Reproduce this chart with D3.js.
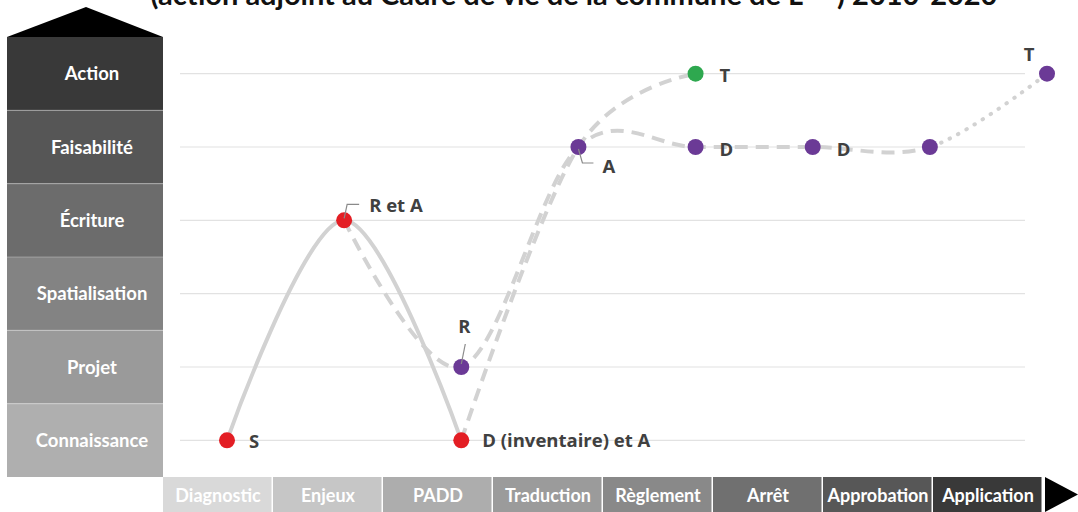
<!DOCTYPE html>
<html><head><meta charset="utf-8">
<script src="https://cdn.jsdelivr.net/npm/d3@7"></script>
<style>
html,body{margin:0;padding:0;background:#fff;overflow:hidden}
svg{display:block}
</style></head>
<body>
<svg id="chart" width="1078" height="512"></svg>
<script>
// ---- data ----
const title = "(action adjoint au Cadre de vie de la commune de L***) 2010-2020";
const levels = ["Connaissance","Projet","Spatialisation","Écriture","Faisabilité","Action"];
const phases = ["Diagnostic","Enjeux","PADD","Traduction","Règlement","Arrêt","Approbation","Application"];
// series: step index + level
const solidSteps = [0,1,2];
const solidLevels = ["Connaissance","Écriture","Connaissance"];
const pathBSteps = [1,2,3,4,5,6,7];
const pathBLevels = ["Écriture","Projet","Faisabilité","Faisabilité","Faisabilité","Faisabilité","Action"];
const pathCSteps = [2,3,4];
const pathCLevels = ["Connaissance","Faisabilité","Action"];
// markers
const dotSteps  = [0,1,2,2,3,4,4,5,6,7];
const dotLevels = ["Connaissance","Écriture","Connaissance","Projet","Faisabilité","Action","Faisabilité","Faisabilité","Faisabilité","Action"];
const dotGroups = ["red","red","red","purple","purple","green","purple","purple","purple","purple"];
const dotLabels = ["S","R et A","D (inventaire) et A","R","A","T","D","D","","T"];

// ---- layout / style ----
const svg = d3.select("#chart");
const levelColors = ["#afafaf","#9a9a9a","#838383","#6c6c6c","#565656","#393939"];
const phaseColors = ["#d9d9d9","#c6c6c6","#adadad","#9b9b9b","#898989","#707070","#575757","#393939"];
const groupColor = {red:"#e31e24", purple:"#6b3a96", green:"#2ea84f"};
const lineColor = "#d2d2d2";
const gothic = "Lato, 'DejaVu Sans', sans-serif";

const yBand = d3.scaleBand().domain(levels).range([477,37]).padding(0);
const yc = l => yBand(l) + yBand.bandwidth()/2;
const x = d3.scaleLinear().domain([0,7]).range([227,1047]);
const xPhase = d3.scaleBand().domain(phases).range([163,1043]).padding(0);

// title (cut off at top, as in the source)
svg.append("text").attr("x",574).attr("y",5).attr("text-anchor","middle")
  .attr("font-family",gothic).attr("font-weight",700)
  .attr("font-size",29).attr("fill","#111").text(title);

// roof
svg.append("path").attr("d",`M7,${yBand.range()[1]} L86,7 L163,${yBand.range()[1]} Z`).attr("fill","#000");

// level blocks
const lv = svg.append("g");
lv.selectAll("rect").data(levels).join("rect")
  .attr("x",7).attr("width",156).attr("y",d=>yBand(d)).attr("height",yBand.bandwidth())
  .attr("fill",(d,i)=>levelColors[i]);
lv.selectAll("line").data(levels.slice(0,-1)).join("line")
  .attr("x1",7).attr("x2",163).attr("y1",d=>yBand(d)).attr("y2",d=>yBand(d))
  .attr("stroke","rgba(255,255,255,0.3)").attr("stroke-width",1.2);
lv.selectAll("text").data(levels).join("text")
  .attr("x",92).attr("y",d=>yc(d)+6.5).attr("text-anchor","middle")
  .attr("font-family",gothic).attr("font-weight",700)
  .attr("font-size",18.5).attr("fill","#fff").text(d=>d);

// gridlines
svg.append("g").selectAll("line").data(levels).join("line")
  .attr("x1",180).attr("x2",1025).attr("y1",d=>yc(d)).attr("y2",d=>yc(d))
  .attr("stroke","#e2e2e2").attr("stroke-width",1.2);

// phase band
const ph = svg.append("g");
ph.selectAll("rect").data(phases).join("rect")
  .attr("x",d=>xPhase(d)).attr("width",xPhase.bandwidth()-1.5).attr("y",477).attr("height",35)
  .attr("fill",(d,i)=>phaseColors[i]);
ph.selectAll("text").data(phases).join("text")
  .attr("x",d=>xPhase(d)+xPhase.bandwidth()/2).attr("y",502).attr("text-anchor","middle")
  .attr("font-family",gothic).attr("font-weight",700)
  .attr("font-size",18).attr("fill","#fff").text(d=>d);
svg.append("path").attr("d","M1045,477 L1078,494.5 L1045,512 Z").attr("fill","#000");

// lines
const line = d3.line().x(d=>x(d[0])).y(d=>yc(d[1])).curve(d3.curveCatmullRom.alpha(0));
const zip = (a,b)=>a.map((v,i)=>[v,b[i]]);

svg.append("path").attr("d",line(zip(solidSteps,solidLevels)))
  .attr("fill","none").attr("stroke",lineColor).attr("stroke-width",4);

const defs = svg.append("defs");
const xSplit = x(6);
defs.append("clipPath").attr("id","cL").append("rect").attr("x",0).attr("y",0).attr("width",xSplit).attr("height",512);
defs.append("clipPath").attr("id","cR").append("rect").attr("x",xSplit).attr("y",0).attr("width",1078-xSplit).attr("height",512);

const dB = line(zip(pathBSteps,pathBLevels));
svg.append("path").attr("d",dB).attr("clip-path","url(#cL)")
  .attr("fill","none").attr("stroke",lineColor).attr("stroke-width",4).attr("stroke-dasharray","13,8");
svg.append("path").attr("d",dB).attr("clip-path","url(#cR)")
  .attr("fill","none").attr("stroke",lineColor).attr("stroke-width",4)
  .attr("stroke-dasharray","0.5,9").attr("stroke-linecap","round");
svg.append("path").attr("d",line(zip(pathCSteps,pathCLevels)))
  .attr("fill","none").attr("stroke",lineColor).attr("stroke-width",4).attr("stroke-dasharray","13,8");

// dots
const dots = dotSteps.map((s,i)=>({s, l:dotLevels[i], g:dotGroups[i], t:dotLabels[i]}));
svg.append("g").selectAll("circle").data(dots).join("circle")
  .attr("cx",d=>x(d.s)).attr("cy",d=>yc(d.l)).attr("r",8).attr("fill",d=>groupColor[d.g]);

// label placement (offsets) and leader lines
const labelPos = [
  {dx:22,dy:8,anchor:"start"},
  {dx:25,dy:-8,anchor:"start",leader:[[0,-2],[3,-16],[15,-16]]},
  {dx:21,dy:7,anchor:"start"},
  {dx:3,dy:-34,anchor:"middle",leader:[[0,-3],[4,-23]]},
  {dx:24,dy:26,anchor:"start",leader:[[0,2],[4,16],[15,16]]},
  {dx:24,dy:8,anchor:"start"},
  {dx:24,dy:9,anchor:"start"},
  {dx:24,dy:9,anchor:"start"},
  {dx:0,dy:0,anchor:"start"},
  {dx:-18,dy:-13,anchor:"middle"}
];
const lg = svg.append("g");
dots.forEach((d,i)=>{
  const p = labelPos[i];
  const cx = x(d.s), cy = yc(d.l);
  if(p.leader){
    lg.append("polyline").attr("points",p.leader.map(q=>[cx+q[0],cy+q[1]].join(",")).join(" "))
      .attr("fill","none").attr("stroke","#8a8a8a").attr("stroke-width",1.2);
  }
  if(d.t){
    lg.append("text").attr("x",cx+p.dx).attr("y",cy+p.dy).attr("text-anchor",p.anchor)
      .attr("font-family","'Open Sans', 'Noto Sans', sans-serif").attr("font-weight",700)
      .attr("font-size",18.5).attr("fill","#404040").text(d.t);
  }
});
</script>
</body></html>
